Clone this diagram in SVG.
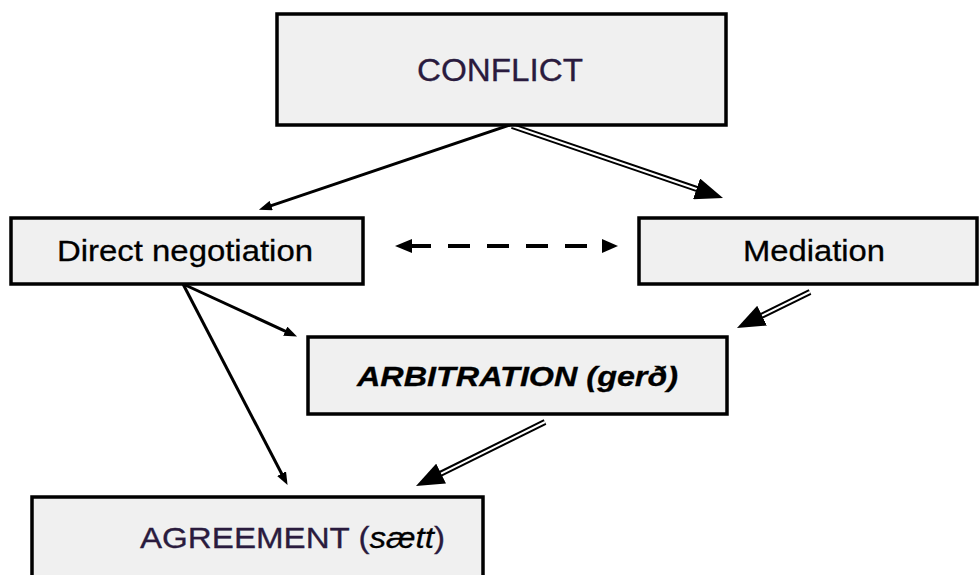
<svg xmlns="http://www.w3.org/2000/svg" width="979" height="575" viewBox="0 0 979 575">
<style>
.box{fill:#f0f0f0;stroke:#000;stroke-width:3.5}
.lbl{font-family:"Liberation Sans",Arial,sans-serif;fill:#000;text-anchor:middle;stroke:#000;stroke-width:0.3}
.pur{fill:#2a1b3e;stroke:#2a1b3e}
.one{fill:none;stroke:#000;stroke-width:3}
.dblo{fill:none;stroke:#000;stroke-width:6}
.dbli{fill:none;stroke:#fff;stroke-width:2}
.dash{fill:none;stroke:#000;stroke-width:4;stroke-dasharray:22 17}
.head{fill:#000}
</style>
<defs>
<marker id="arr" markerUnits="userSpaceOnUse" markerWidth="13" markerHeight="10" refX="7" refY="5" orient="auto">
<path d="M0,0 L13,5 L0,10 z" fill="#000"/>
</marker>
<marker id="big" markerUnits="userSpaceOnUse" markerWidth="28" markerHeight="22" refX="4" refY="11" orient="auto">
<path d="M0,0 L28,11 L0,22 z" fill="#000"/>
</marker>
</defs>
<rect width="979" height="575" fill="#fff"/>
<g id="connectors">
<line class="one" x1="510" y1="125" x2="264.6" y2="207.8" marker-end="url(#arr)"/>
<line class="one" x1="183" y1="284" x2="291.6" y2="334.1" marker-end="url(#arr)"/>
<line class="one" x1="183" y1="284" x2="284.8" y2="479.8" marker-end="url(#arr)"/>
<line class="dblo" x1="512" y1="126" x2="700.3" y2="190.2"/>
<line class="dbli" x1="512" y1="126" x2="700.3" y2="190.2" marker-end="url(#big)"/>
<line class="dblo" x1="810" y1="292" x2="758.5" y2="317.4"/>
<line class="dbli" x1="810" y1="292" x2="758.5" y2="317.4" marker-end="url(#big)"/>
<line class="dblo" x1="545" y1="422" x2="437.5" y2="475.3"/>
<line class="dbli" x1="545" y1="422" x2="437.5" y2="475.3" marker-end="url(#big)"/>
<line class="dash" x1="409" y1="246" x2="588" y2="246"/>
<polygon class="head" points="395,246 412,239 412,253"/>
<polygon class="head" points="602,239 618,246 602,253"/>
</g>
<g id="conflict">
<rect class="box" x="277" y="14" width="449" height="111"/>
<text class="lbl pur" x="500" y="81" font-size="31" textLength="166" lengthAdjust="spacingAndGlyphs">CONFLICT</text>
</g>
<g id="direct">
<rect class="box" x="11" y="218" width="352" height="66"/>
<text class="lbl" x="185" y="261" font-size="30" textLength="256" lengthAdjust="spacingAndGlyphs">Direct negotiation</text>
</g>
<g id="mediation">
<rect class="box" x="639" y="218" width="338" height="66"/>
<text class="lbl" x="814" y="261" font-size="30" textLength="142" lengthAdjust="spacingAndGlyphs">Mediation</text>
</g>
<g id="arbitration">
<rect class="box" x="308" y="337" width="419" height="77"/>
<text class="lbl" x="517.5" y="386" font-size="28" font-weight="bold" font-style="italic" textLength="321" lengthAdjust="spacingAndGlyphs">ARBITRATION (gerð)</text>
</g>
<g id="agreement">
<rect class="box" x="32" y="497" width="451" height="95"/>
<text class="lbl pur" x="292.5" y="548" font-size="29" textLength="305" lengthAdjust="spacingAndGlyphs">AGREEMENT (<tspan font-style="italic" fill="#000" stroke="#000">sætt</tspan>)</text>
</g>
</svg>
